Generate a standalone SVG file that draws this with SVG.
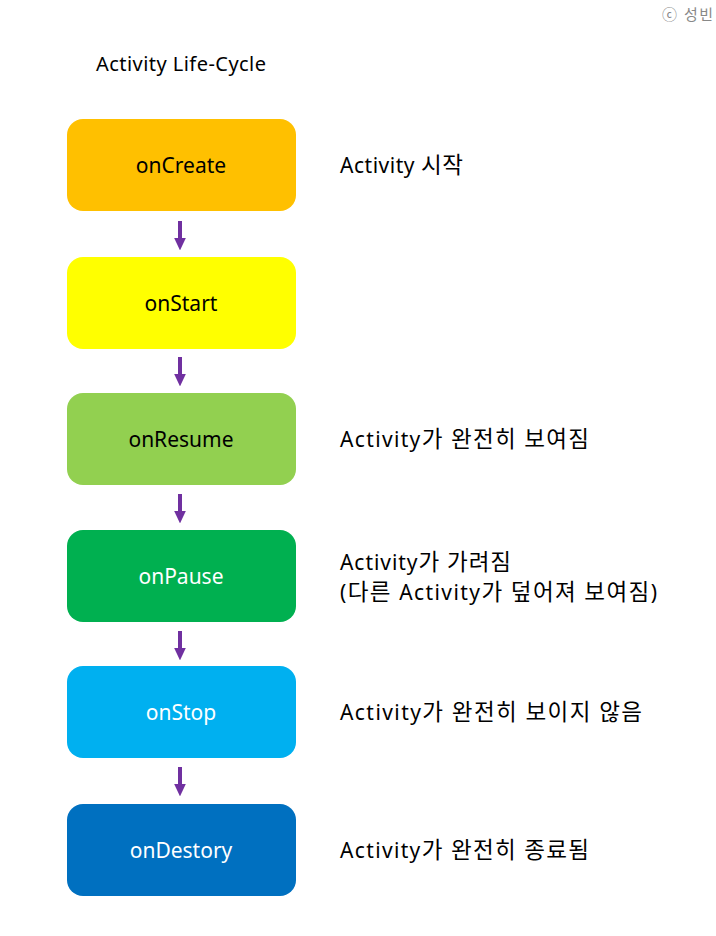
<svg xmlns="http://www.w3.org/2000/svg" width="716" height="936" viewBox="0 0 716 936">
<style>
text{font-family:"Noto Sans","Noto Sans CJK KR",sans-serif}
.lbl{font-size:21px;text-anchor:middle}
.desc{font-size:21px;fill:#000}
.k{font-size:22.5px}
.shaft{stroke:#7030A0;stroke-width:4}
</style>
<defs>
<marker id="ah" markerWidth="3.2" markerHeight="3" refX="0.1" refY="1.5" orient="auto" markerUnits="strokeWidth">
<path d="M0,0 L3.2,1.5 L0,3 Z" fill="#7030A0"/>
</marker>
</defs>
<rect width="716" height="936" fill="#fff"/>
<text x="662" y="20" textLength="51" style="font-size:15px;fill:#888">ⓒ 성빈</text>
<text x="96" y="71" textLength="170" style="font-size:20px">Activity Life-Cycle</text>
<g id="connectors">
<line class="shaft" x1="180" y1="221" x2="180" y2="238" marker-end="url(#ah)"/>
<line class="shaft" x1="180" y1="357" x2="180" y2="374" marker-end="url(#ah)"/>
<line class="shaft" x1="180" y1="494" x2="180" y2="511" marker-end="url(#ah)"/>
<line class="shaft" x1="180" y1="631" x2="180" y2="648" marker-end="url(#ah)"/>
<line class="shaft" x1="180" y1="767" x2="180" y2="784" marker-end="url(#ah)"/>
</g>
<g id="onCreate"><rect x="67" y="119" width="229" height="92" rx="16" fill="#FFC000"/><text class="lbl" x="181" y="173">onCreate</text></g>
<g id="onStart"><rect x="67" y="257" width="229" height="92" rx="16" fill="#FFFF00"/><text class="lbl" x="181" y="311">onStart</text></g>
<g id="onResume"><rect x="67" y="393" width="229" height="92" rx="16" fill="#92D050"/><text class="lbl" x="181" y="447">onResume</text></g>
<g id="onPause"><rect x="67" y="530" width="229" height="92" rx="16" fill="#00B050"/><text class="lbl" x="181" y="584" fill="#fff">onPause</text></g>
<g id="onStop"><rect x="67" y="666" width="229" height="92" rx="16" fill="#00B0F0"/><text class="lbl" x="181" y="720" fill="#fff">onStop</text></g>
<g id="onDestory"><rect x="67" y="804" width="229" height="92" rx="16" fill="#0070C0"/><text class="lbl" x="181" y="858" fill="#fff">onDestory</text></g>
<text class="desc" x="340" y="173" textLength="123">Activity <tspan class="k">시작</tspan></text>
<text class="desc" x="340" y="447" textLength="249">Activity<tspan class="k">가 완전히 보여짐</tspan></text>
<text class="desc" x="340" y="570" textLength="171">Activity<tspan class="k">가 가려짐</tspan></text>
<text class="desc" x="340" y="600" textLength="317">(<tspan class="k">다른 </tspan>Activity<tspan class="k">가 덮어져 보여짐</tspan>)</text>
<text class="desc" x="340" y="720" textLength="302">Activity<tspan class="k">가 완전히 보이지 않음</tspan></text>
<text class="desc" x="340" y="858" textLength="249">Activity<tspan class="k">가 완전히 종료됨</tspan></text>
</svg>
